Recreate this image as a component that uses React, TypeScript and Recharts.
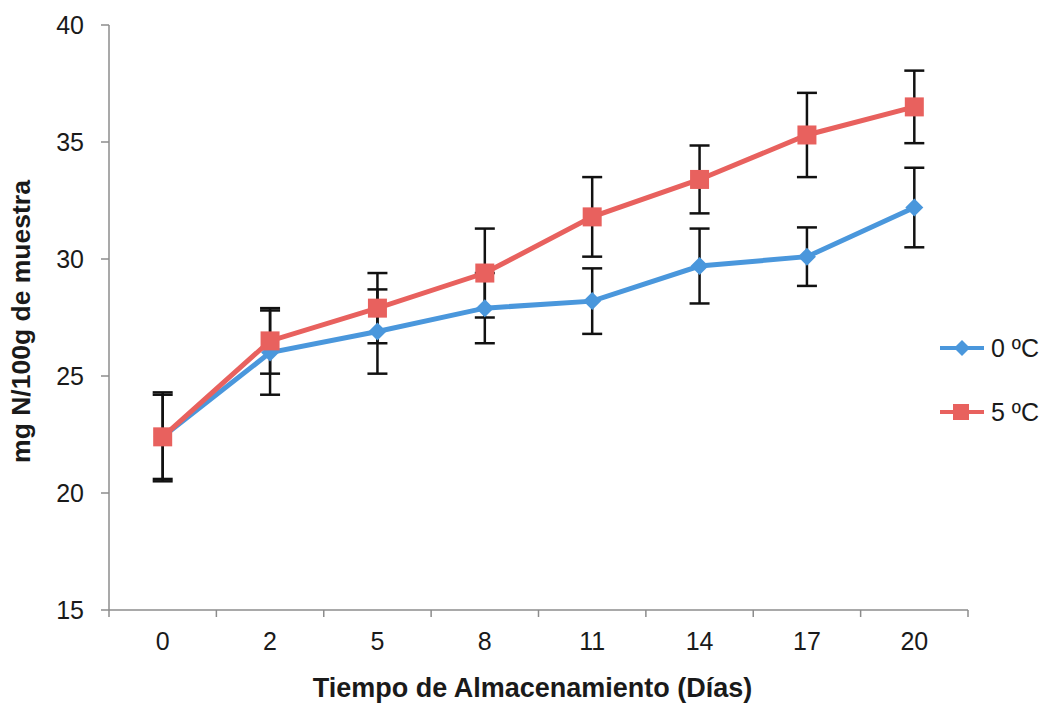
import React from "react"
import { ErrorBar, Legend, Line, LineChart, XAxis, YAxis } from "recharts"

const days = ["0", "2", "5", "8", "11", "14", "17", "20"]
const temp0 = [22.4, 26.0, 26.9, 27.9, 28.2, 29.7, 30.1, 32.2]
const temp0Err = [1.8, 1.8, 1.8, 1.5, 1.4, 1.6, 1.25, 1.7]
const temp5 = [22.4, 26.5, 27.9, 29.4, 31.8, 33.4, 35.3, 36.5]
const temp5Err = [1.9, 1.4, 1.5, 1.9, 1.7, 1.45, 1.8, 1.55]
const yTicks = [15, 20, 25, 30, 35, 40]

const BLUE = "#4a97dc"
const RED = "#e8615e"
const FONT = "'Liberation Sans', Arial, sans-serif"

const data = days.map((label, i) => ({
  x: i,
  label,
  t0: temp0[i],
  t0Err: temp0Err[i],
  t5: temp5[i],
  t5Err: temp5Err[i],
}))

// ticks on integers carry labels, half steps carry the tick marks between categories
const xTicks = [-0.5, ...days.flatMap((_, i) => [i, i + 0.5])]

function XTick(props: any) {
  const { x, y, payload } = props
  const v = payload.value
  if (!Number.isInteger(v)) {
    return <line x1={x} x2={x} y1={y} y2={y + 7} stroke="#8c8c8c" strokeWidth={1.5} />
  }
  return (
    <text x={x} y={y + 40} textAnchor="middle" fontSize={25} fontFamily={FONT} fill="#1a1a1a">
      {days[v]}
    </text>
  )
}

function Diamond(props: any) {
  const { cx, cy } = props
  if (cx == null || cy == null) return null
  const r = 9
  return <polygon points={`${cx},${cy - r} ${cx + r},${cy} ${cx},${cy + r} ${cx - r},${cy}`} fill={BLUE} />
}

function Square(props: any) {
  const { cx, cy } = props
  if (cx == null || cy == null) return null
  const s = 19
  return <rect x={cx - s / 2} y={cy - s / 2} width={s} height={s} fill={RED} />
}

function LegendBox() {
  const items = [
    { name: "0 ºC", color: BLUE, shape: "diamond" },
    { name: "5 ºC", color: RED, shape: "square" },
  ]
  return (
    <svg width={110} height={110}>
      {items.map((it, i) => {
        const cy = 28 + i * 64
        return (
          <g key={it.name}>
            <line x1={4} x2={48} y1={cy} y2={cy} stroke={it.color} strokeWidth={4} />
            {it.shape === "diamond" ? (
              <polygon points={`26,${cy - 8} 34,${cy} 26,${cy + 8} 18,${cy}`} fill={it.color} />
            ) : (
              <rect x={17} y={cy - 8} width={16} height={16} fill={it.color} />
            )}
            <text x={55} y={cy + 9} fontSize={25} fontFamily={FONT} fill="#1a1a1a">
              {it.name}
            </text>
          </g>
        )
      })}
    </svg>
  )
}

export default function App() {
  return (
    <div style={{ position: "absolute", left: 0, top: 0, background: "#fff" }}>
      <LineChart width={1046} height={709} data={data} margin={{ top: 25, right: 78, bottom: 0, left: 0 }}>
        <XAxis
          dataKey="x"
          type="number"
          domain={[-0.5, 7.5]}
          ticks={xTicks}
          interval={0}
          tick={<XTick />}
          tickLine={false}
          tickSize={0}
          tickMargin={0}
          height={99}
          axisLine={{ stroke: "#8c8c8c", strokeWidth: 1.5 }}
          label={{
            content: ({ viewBox }: any) => (
              <text
                x={viewBox.x + viewBox.width / 2 - 6}
                y={697}
                textAnchor="middle"
                fontSize={27}
                fontWeight="bold"
                fontFamily={FONT}
                fill="#1a1a1a"
              >
                Tiempo de Almacenamiento (Días)
              </text>
            ),
          }}
        />
        <YAxis
          type="number"
          domain={[15, 40]}
          ticks={yTicks}
          interval={0}
          width={109}
          tickSize={8}
          tickMargin={17}
          tick={{ fontSize: 25, fontFamily: FONT, fill: "#1a1a1a" }}
          tickLine={{ stroke: "#8c8c8c", strokeWidth: 1.5 }}
          axisLine={{ stroke: "#8c8c8c", strokeWidth: 1.5 }}
          label={{
            content: ({ viewBox }: any) => {
              const cy = viewBox.y + viewBox.height / 2 + 4
              return (
                <text
                  x={30}
                  y={cy}
                  transform={`rotate(-90, 30, ${cy})`}
                  textAnchor="middle"
                  fontSize={26.5}
                  fontWeight="bold"
                  fontFamily={FONT}
                  fill="#1a1a1a"
                >
                  mg N/100g de muestra
                </text>
              )
            },
          }}
        />
        <Legend
          layout="vertical"
          align="center"
          verticalAlign="middle"
          content={() => <LegendBox />}
          wrapperStyle={{ left: 936, top: 320, width: 110, height: 110 }}
        />
        <Line
          type="linear"
          dataKey="t0"
          name="0 ºC"
          stroke={BLUE}
          strokeWidth={5}
          dot={<Diamond />}
          activeDot={false}
          isAnimationActive={false}
        >
          <ErrorBar dataKey="t0Err" direction="y" width={10} stroke="#111" strokeWidth={2.5} isAnimationActive={false} />
        </Line>
        <Line
          type="linear"
          dataKey="t5"
          name="5 ºC"
          stroke={RED}
          strokeWidth={5}
          dot={<Square />}
          activeDot={false}
          isAnimationActive={false}
        >
          <ErrorBar dataKey="t5Err" direction="y" width={10} stroke="#111" strokeWidth={2.5} isAnimationActive={false} />
        </Line>
      </LineChart>
    </div>
  )
}
